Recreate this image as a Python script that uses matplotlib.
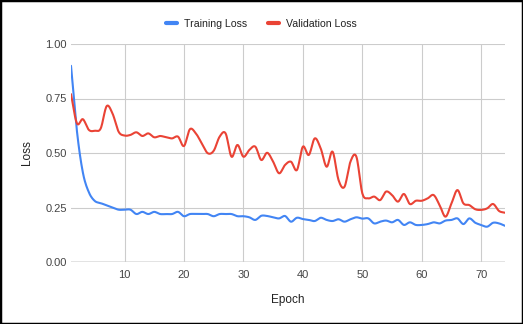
import numpy as np
import matplotlib
matplotlib.use("Agg")
import matplotlib.pyplot as plt
from matplotlib.patches import Rectangle

plt.rcParams["font.family"] = ["Liberation Sans", "DejaVu Sans"]

# ── Data ──────────────────────────────────────────────────────────────────
epochs = list(range(1, 75))
train_loss = [
    0.90, 0.60, 0.41, 0.32, 0.28, 0.27, 0.26, 0.25, 0.24, 0.24,
    0.24, 0.22, 0.23, 0.22, 0.23, 0.22, 0.22, 0.22, 0.23, 0.21,
    0.22, 0.22, 0.22, 0.22, 0.21, 0.22, 0.22, 0.22, 0.21, 0.21,
    0.205, 0.193, 0.212, 0.211, 0.205, 0.20, 0.211, 0.185, 0.203, 0.197,
    0.193, 0.188, 0.203, 0.193, 0.188, 0.196, 0.185, 0.196, 0.205, 0.199,
    0.20, 0.177, 0.185, 0.19, 0.182, 0.193, 0.17, 0.182, 0.17, 0.17,
    0.174, 0.182, 0.177, 0.19, 0.193, 0.20, 0.174, 0.20, 0.18, 0.17,
    0.162, 0.18, 0.177, 0.166,
]
val_loss = [
    0.77, 0.636, 0.655, 0.606, 0.602, 0.613, 0.715, 0.68, 0.598, 0.58,
    0.583, 0.595, 0.578, 0.59, 0.572, 0.578, 0.572, 0.567, 0.575, 0.532,
    0.609, 0.59, 0.544, 0.499, 0.51, 0.575, 0.59, 0.483, 0.537, 0.483,
    0.514, 0.529, 0.468, 0.501, 0.46, 0.407, 0.445, 0.46, 0.422, 0.529,
    0.491, 0.567, 0.521, 0.437, 0.506, 0.376, 0.345, 0.46, 0.483, 0.315,
    0.292, 0.30, 0.284, 0.323, 0.307, 0.277, 0.312, 0.266, 0.281, 0.281,
    0.292, 0.307, 0.261, 0.208, 0.269, 0.33, 0.269, 0.261, 0.242, 0.239,
    0.246, 0.266, 0.234, 0.226,
]
series_names = ["Training Loss", "Validation Loss"]
colors = ["#4285f4", "#ea4335"]


def smooth(x, y, per=12):
    # Catmull-Rom spline through the points, for the rounded line look
    x = np.asarray(x, float)
    y = np.asarray(y, float)
    px = np.concatenate([[2 * x[0] - x[1]], x, [2 * x[-1] - x[-2]]])
    py = np.concatenate([[2 * y[0] - y[1]], y, [2 * y[-1] - y[-2]]])
    t = np.linspace(0, 1, per, endpoint=False)
    xs, ys = [], []
    for i in range(1, len(px) - 2):
        for arr, out in ((px, xs), (py, ys)):
            p0, p1, p2, p3 = arr[i - 1], arr[i], arr[i + 1], arr[i + 2]
            out.append(0.5 * (2 * p1 + (-p0 + p2) * t
                              + (2 * p0 - 5 * p1 + 4 * p2 - p3) * t ** 2
                              + (-p0 + 3 * p1 - 3 * p2 + p3) * t ** 3))
    xs.append([x[-1]])
    ys.append([y[-1]])
    return np.concatenate(xs), np.concatenate(ys)


# ── Plot ──────────────────────────────────────────────────────────────────
fig = plt.figure(figsize=(5.23, 3.24), dpi=100)
ax = fig.add_axes([71 / 523, 1 - 262 / 324, (505 - 71) / 523, (262 - 44) / 324])

for ys, name, c in zip([train_loss, val_loss], series_names, colors):
    sx, sy = smooth(epochs, ys)
    ax.plot(sx, sy, color=c, lw=1.5, label=name, solid_capstyle="round")

ax.set_xlim(1, 74)
ax.set_ylim(0, 1)
ax.set_xticks([10, 20, 30, 40, 50, 60, 70])
ax.set_yticks([0, 0.25, 0.5, 0.75, 1.0])
ax.set_yticklabels(["0.00", "0.25", "0.50", "0.75", "1.00"])
ax.grid(True, color="#cccccc", lw=0.8)
ax.axhline(0, color="#333333", lw=0.9, zorder=1)
for s in ax.spines.values():
    s.set_visible(False)
ax.tick_params(length=0, labelsize=8, colors="#444444")
ax.tick_params(axis="y", pad=3)
ax.tick_params(axis="x", pad=6)
ax.set_xlabel("Epoch", fontsize=8.5, color="#222222", labelpad=10)
ax.set_ylabel("Loss", fontsize=8.5, color="#222222", labelpad=9)

fig.legend(loc="center", bbox_to_anchor=(0.5, 1 - 24 / 324), ncol=2,
           frameon=False, fontsize=7.6, handlelength=1.0, handletextpad=0.7,
           columnspacing=2.0, labelcolor="#222222")
for line in fig.legends[0].get_lines():
    line.set_linewidth(3)

fig.patches.append(Rectangle((0, 0), 1, 1, transform=fig.transFigure,
                             fill=False, edgecolor="black", lw=2.5))

plt.savefig("out.png", dpi=100)
